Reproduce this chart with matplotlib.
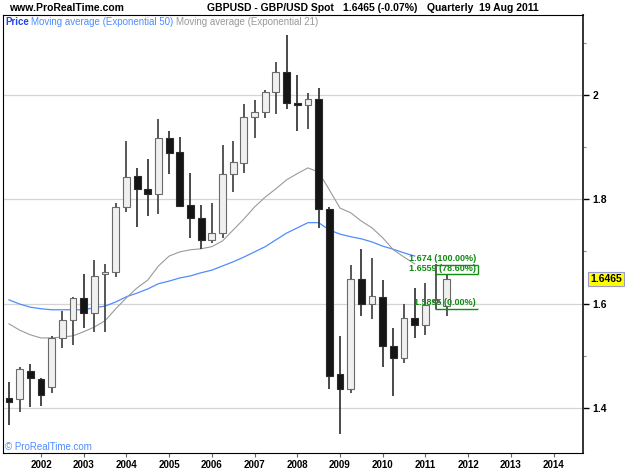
import matplotlib
matplotlib.use("Agg")
import matplotlib.pyplot as plt
from matplotlib.ticker import MultipleLocator, FixedLocator
import matplotlib.transforms as mtransforms

plt.rcParams['font.family'] = ['Liberation Sans', 'DejaVu Sans']

# quarterly GBPUSD candles
quarters = ["2001Q2", "2001Q3", "2001Q4",
            "2002Q1", "2002Q2", "2002Q3", "2002Q4",
            "2003Q1", "2003Q2", "2003Q3", "2003Q4",
            "2004Q1", "2004Q2", "2004Q3", "2004Q4",
            "2005Q1", "2005Q2", "2005Q3", "2005Q4",
            "2006Q1", "2006Q2", "2006Q3", "2006Q4",
            "2007Q1", "2007Q2", "2007Q3", "2007Q4",
            "2008Q1", "2008Q2", "2008Q3", "2008Q4",
            "2009Q1", "2009Q2", "2009Q3", "2009Q4",
            "2010Q1", "2010Q2", "2010Q3", "2010Q4",
            "2011Q1", "2011Q2", "2011Q3"]
opens = [1.419, 1.417, 1.471, 1.455, 1.440, 1.534, 1.569, 1.611, 1.582, 1.657, 1.661,
         1.785, 1.845, 1.820, 1.810, 1.918, 1.891, 1.789, 1.764, 1.722, 1.735, 1.849,
         1.870, 1.958, 1.967, 2.006, 2.044, 1.985, 1.981, 1.992, 1.781, 1.465, 1.436,
         1.647, 1.599, 1.613, 1.519, 1.496, 1.572, 1.559, 1.603, 1.595]
highs = [1.450, 1.478, 1.484, 1.457, 1.538, 1.586, 1.613, 1.657, 1.684, 1.676, 1.793,
         1.912, 1.860, 1.877, 1.954, 1.931, 1.919, 1.850, 1.789, 1.793, 1.904, 1.912,
         1.983, 1.990, 2.010, 2.063, 2.115, 2.038, 2.004, 2.013, 1.785, 1.538, 1.674,
         1.705, 1.687, 1.645, 1.553, 1.599, 1.630, 1.640, 1.675, 1.655]
lows = [1.367, 1.392, 1.402, 1.404, 1.429, 1.515, 1.521, 1.553, 1.546, 1.546, 1.651,
        1.776, 1.747, 1.768, 1.772, 1.849, 1.785, 1.726, 1.705, 1.716, 1.726, 1.814,
        1.850, 1.918, 1.956, 1.964, 1.973, 1.931, 1.935, 1.745, 1.436, 1.350, 1.429,
        1.576, 1.570, 1.478, 1.423, 1.486, 1.534, 1.540, 1.5895, 1.576]
closes = [1.411, 1.475, 1.457, 1.425, 1.534, 1.569, 1.611, 1.582, 1.653, 1.661, 1.785,
          1.843, 1.820, 1.810, 1.918, 1.889, 1.787, 1.764, 1.722, 1.735, 1.849, 1.872,
          1.958, 1.967, 2.006, 2.044, 1.984, 1.981, 1.992, 1.781, 1.461, 1.436, 1.647,
          1.599, 1.614, 1.519, 1.496, 1.572, 1.559, 1.597, 1.606, 1.6465]

# moving averages as drawn (up to 2010Q4)
ema50 = [1.607, 1.599, 1.593, 1.590, 1.588, 1.588, 1.588, 1.588, 1.592, 1.595, 1.603,
         1.613, 1.620, 1.628, 1.638, 1.643, 1.649, 1.653, 1.659, 1.664, 1.672, 1.680,
         1.689, 1.699, 1.709, 1.722, 1.735, 1.745, 1.755, 1.755, 1.741, 1.733, 1.728,
         1.724, 1.718, 1.710, 1.704, 1.697, 1.691]
ema21 = [1.561, 1.549, 1.540, 1.534, 1.534, 1.536, 1.538, 1.546, 1.555, 1.567, 1.590,
         1.611, 1.630, 1.645, 1.672, 1.691, 1.699, 1.703, 1.705, 1.709, 1.720, 1.741,
         1.762, 1.785, 1.804, 1.820, 1.837, 1.849, 1.860, 1.852, 1.818, 1.783, 1.774,
         1.758, 1.745, 1.726, 1.703, 1.689, 1.676]

fib_levels = [1.674, 1.6559, 1.5895]
fib_labels = ["1.674 (100.00%)", "1.6559 (78.60%)", "1.5895 (0.00%)"]
last_price = 1.6465
years = list(range(2002, 2015))

x = [int(q[:4]) + (int(q[-1]) - 1) / 4.0 for q in quarters]

fig = plt.figure(figsize=(6.25, 4.69), dpi=100)
ax = fig.add_axes([3 / 625, 1 - 453 / 469, 580 / 625, 438 / 469])

ax.set_xlim(2001.11, 2014.69)
ax.set_ylim(1.3135, 2.153)

# grid
for lv in [1.4, 1.6, 1.8, 2.0]:
    ax.axhline(lv, color='#d4d4d4', lw=0.9, zorder=0)

# moving averages
ax.plot(x[:len(ema50)], ema50, color='#4f8cff', lw=0.9, zorder=2)
ax.plot(x[:len(ema21)], ema21, color='#9a9a9a', lw=0.8, zorder=2)

# candles
w = 0.16
for xi, o, h, l, c in zip(x, opens, highs, lows, closes):
    up = c >= o
    ax.vlines(xi, l, h, color='#3a3a3a' if not up else '#4a4a4a', lw=1.3, zorder=3)
    bottom = min(o, c)
    height = max(abs(c - o), 0.003)
    ax.bar(xi, height, w, bottom=bottom,
           color='#f0f0f0' if up else '#151515',
           edgecolor='#6a6a6a' if up else '#2a2a2a', lw=0.8, zorder=4)

# fibonacci retracement
fib_x0 = x[-2] - 0.02
fib_x1 = 2012.22
for lv, lab in zip(fib_levels, fib_labels):
    ax.hlines(lv, fib_x0, fib_x1, color='#108a10', lw=1.0, zorder=5)
    ax.text(fib_x1 - 0.03, lv + 0.003, lab, color='#108a10', fontsize=6.5,
            fontweight='bold', ha='right', va='bottom', zorder=6)
ax.vlines(fib_x1, fib_levels[1], fib_levels[0], color='#108a10', lw=1.0, zorder=5)

# axes styling
for s in ['left', 'top', 'bottom']:
    ax.spines[s].set_color('black')
    ax.spines[s].set_linewidth(0.8)
ax.spines['right'].set_color('#333333')
ax.spines['right'].set_linewidth(1.4)

ax.yaxis.tick_right()
ax.yaxis.set_major_locator(FixedLocator([1.4, 1.6, 1.8, 2.0]))
ax.yaxis.set_minor_locator(FixedLocator([1.5, 1.7, 1.9, 2.1]))
ax.set_yticklabels(['1.4', '1.6', '1.8', '2'])
ax.tick_params(axis='y', which='major', length=4, width=1, pad=3, labelsize=7.5,
               colors='black')
ax.tick_params(axis='y', which='minor', length=2.5, width=0.8, color='#888888')
ax.set_xticks(years)
ax.set_xticklabels([str(yv) for yv in years])
ax.tick_params(axis='x', length=3, width=0.8, pad=2, labelsize=7, color='#666666')
for t in ax.get_xticklabels() + ax.get_yticklabels():
    t.set_fontweight('bold')

# last price tag
trans = mtransforms.blended_transform_factory(ax.transAxes, ax.transData)
ax.text(1.012, last_price, "%.4f" % last_price, transform=trans, fontsize=7.5,
        fontweight='bold', va='center', ha='left', clip_on=False,
        bbox=dict(boxstyle='square,pad=0.2', fc='#ffff00', ec='#9a9ac8', lw=0.8))

# header texts
fig.text(9 / 625, 1 - 8 / 469, "www.ProRealTime.com", fontsize=7.5, fontweight='bold',
         va='center')
fig.text(207 / 625, 1 - 8 / 469, "GBPUSD - GBP/USD Spot", fontsize=7.5,
         fontweight='bold', va='center')
fig.text(343 / 625, 1 - 8 / 469, "1.6465 (-0.07%)", fontsize=7.5, fontweight='bold',
         va='center')
fig.text(427 / 625, 1 - 8 / 469, "Quarterly  19 Aug 2011", fontsize=7.5,
         fontweight='bold', va='center')

fig.text(5 / 625, 1 - 22 / 469, "Price", fontsize=7, fontweight='bold',
         color='#2244ee', va='center')
fig.text(31 / 625, 1 - 22 / 469, "Moving average (Exponential 50)", fontsize=7,
         color='#4f8cff', va='center')
fig.text(176 / 625, 1 - 22 / 469, "Moving average (Exponential 21)", fontsize=7,
         color='#999999', va='center')
fig.text(5 / 625, 1 - 447 / 469, "\u00a9 ProRealTime.com", fontsize=7,
         color='#4f8cff', va='center')

fig.savefig("out.png", dpi=100)
